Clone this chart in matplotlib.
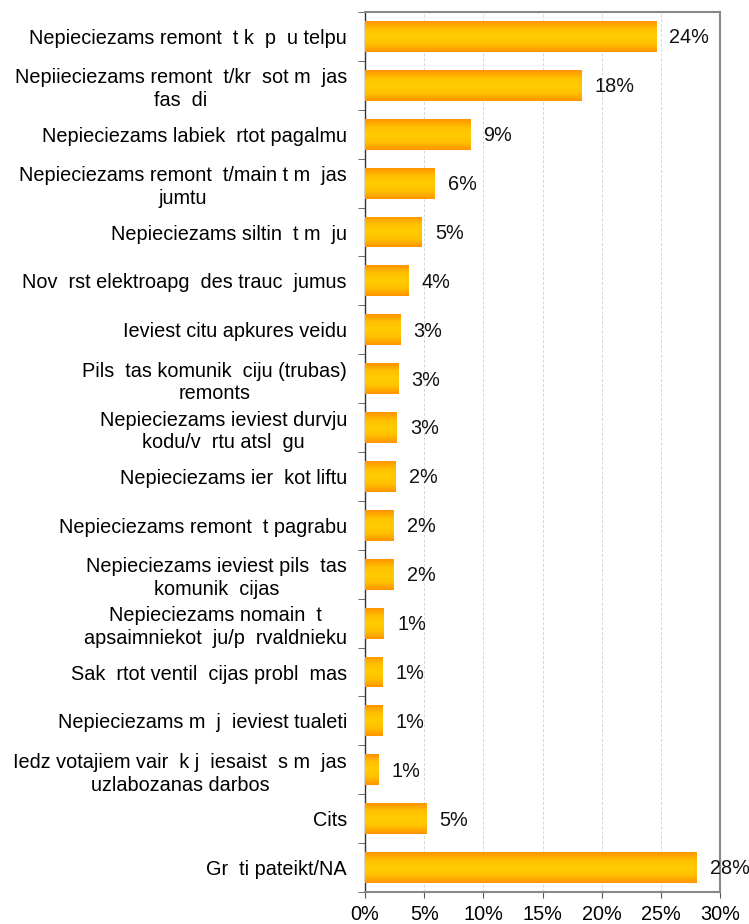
import numpy as np
import matplotlib
matplotlib.use("Agg")
import matplotlib.pyplot as plt
from matplotlib.colors import LinearSegmentedColormap

plt.rcParams['font.family'] = ['Liberation Sans', 'DejaVu Sans']

categories = [
    "Nepieciezams remont  t k  p  u telpu",
    "Nepiieciezams remont  t/kr  sot m  jas\nfas  di",
    "Nepieciezams labiek  rtot pagalmu",
    "Nepieciezams remont  t/main t m  jas\njumtu",
    "Nepieciezams siltin  t m  ju",
    "Nov  rst elektroapg  des trauc  jumus",
    "Ieviest citu apkures veidu",
    "Pils  tas komunik  ciju (trubas)\nremonts",
    "Nepieciezams ieviest durvju\nkodu/v  rtu atsl  gu",
    "Nepieciezams ier  kot liftu",
    "Nepieciezams remont  t pagrabu",
    "Nepieciezams ieviest pils  tas\nkomunik  cijas",
    "Nepieciezams nomain  t\napsaimniekot  ju/p  rvaldnieku",
    "Sak  rtot ventil  cijas probl  mas",
    "Nepieciezams m  j  ieviest tualeti",
    "Iedz votajiem vair  k j  iesaist  s m  jas\nuzlabozanas darbos",
    "Cits",
    "Gr  ti pateikt/NA",
]
values = [24.6, 18.3, 8.9, 5.9, 4.8, 3.7, 3.0, 2.8, 2.7, 2.6, 2.4, 2.4, 1.6, 1.5, 1.5, 1.1, 5.2, 28.0]
value_labels = ["24%", "18%", "9%", "6%", "5%", "4%", "3%", "3%", "3%", "2%", "2%", "2%",
                "1%", "1%", "1%", "1%", "5%", "28%"]
xticks = [0, 5, 10, 15, 20, 25, 30]
xtick_labels = ["0%", "5%", "10%", "15%", "20%", "25%", "30%"]

fig = plt.figure(figsize=(7.49, 9.24), dpi=100)
ax = fig.add_axes([365/749, 1-892/924, (720-365)/749, (892-12)/924])

n = len(categories)
ypos = np.arange(n)
bars = ax.barh(ypos, values, height=0.63, color='none', edgecolor='none', zorder=2)

cmap = LinearSegmentedColormap.from_list('og', ['#FF9400', '#FFC000', '#FFCC00', '#FFC000', '#FF9400'])
grad = np.linspace(0, 1, 64).reshape(-1, 1)
for b in bars:
    x0, y0 = b.get_x(), b.get_y()
    w, h = b.get_width(), b.get_height()
    im = ax.imshow(grad, cmap=cmap, aspect='auto', extent=(x0, x0 + w, y0 + h, y0),
                   zorder=3, interpolation='bilinear')
    im.set_clip_path(b)

for yv, v, lab in zip(ypos, values, value_labels):
    ax.annotate(lab, (v, yv), xytext=(9.5, -1), textcoords='offset points',
                va='center', ha='left', fontsize=14.3, color='#111111', zorder=4)

ax.set_xlim(0, 30)
ax.set_ylim(n - 0.5, -0.5)
ax.set_xticks(xticks)
ax.set_xticklabels(xtick_labels, fontsize=14.3)
ax.set_yticks(ypos)
ax.set_yticklabels(categories, fontsize=14.3, ha='right', multialignment='center',
                   linespacing=1.25)
ax.set_yticks(np.arange(-0.5, n, 1), minor=True)
ax.tick_params(axis='y', which='major', length=0, pad=13)
ax.tick_params(axis='y', which='minor', length=5, direction='out', color='#555555')
ax.tick_params(axis='x', which='major', length=4, direction='out', color='#555555', pad=5)

ax.grid(axis='x', color='#d4d4d4', linestyle=(0, (3, 2)), linewidth=0.7, zorder=0)
ax.set_axisbelow(True)
for s in ['top', 'right', 'bottom']:
    ax.spines[s].set_color('#888888')
    ax.spines[s].set_linewidth(1.5)
ax.spines['left'].set_color('#333333')
ax.spines['left'].set_linewidth(1.0)

fig.savefig('out.png', dpi=100, facecolor='white')
